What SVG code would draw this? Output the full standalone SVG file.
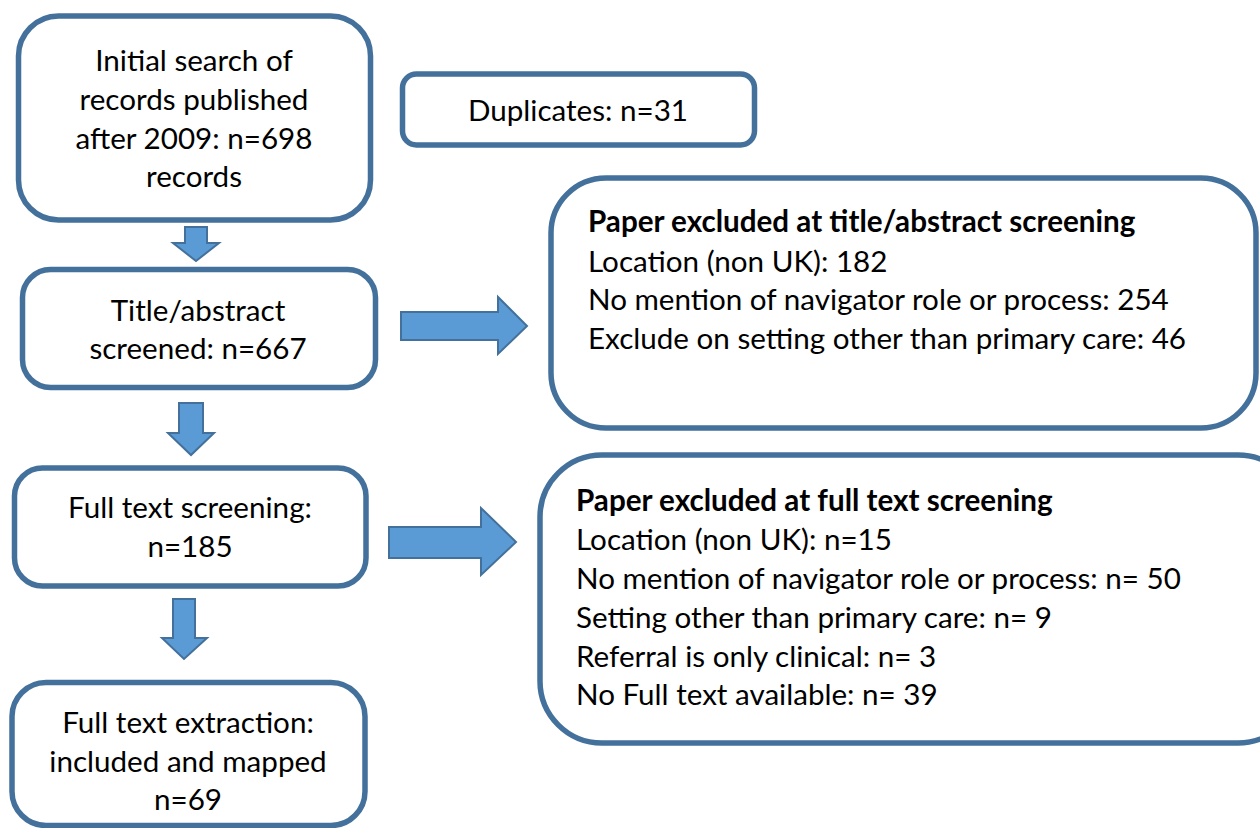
<svg xmlns="http://www.w3.org/2000/svg" width="1260" height="828" viewBox="0 0 1260 828">
<style>
.box{fill:#fff;stroke:#43719c;stroke-width:5.5}
.arr{fill:#5b9bd5;stroke:#43719c;stroke-width:2}
text{font-family:Lato,"Liberation Sans",sans-serif;font-size:29.6px;fill:#000}
.c{text-anchor:middle}
.b{font-weight:bold}
</style>
<rect width="1260" height="828" fill="#fff"/>
<g id="connectors">
<polygon class="arr" points="185,227 207,227 207,243 219,243 196,261 173,243 185,243"/>
<polygon class="arr" points="179,403 203,403 203,433 214,433 191,455 168,433 179,433"/>
<polygon class="arr" points="173,599 195,599 195,638 207,638 184,659 162,638 173,638"/>
<polygon class="arr" points="401,312 498,312 498,297 527,326 498,354 498,340 401,340"/>
<polygon class="arr" points="389,527 481,527 481,508 516,542 481,575 481,558 389,558"/>
</g>
<g id="n1">
<rect class="box" x="18.5" y="16" width="352" height="204" rx="40"/>
<text class="c" x="194" y="71">Initial search of</text>
<text class="c" x="194" y="110">records published</text>
<text class="c" x="194" y="149">after 2009: n=698</text>
<text class="c" x="194" y="187">records</text>
</g>
<g id="n2">
<rect class="box" x="22.5" y="269.5" width="353" height="118" rx="28"/>
<text class="c" x="198" y="321">Title/abstract</text>
<text class="c" x="198" y="359">screened: n=667</text>
</g>
<g id="n3">
<rect class="box" x="14.5" y="468" width="351.5" height="118" rx="28"/>
<text class="c" x="190" y="518">Full text screening:</text>
<text class="c" x="190" y="557">n=185</text>
</g>
<g id="n4">
<rect class="box" x="12" y="682.5" width="353" height="143" rx="34"/>
<text class="c" x="188" y="733">Full text extraction:</text>
<text class="c" x="188" y="772">included and mapped</text>
<text class="c" x="188" y="810">n=69</text>
</g>
<g id="dup">
<rect class="box" x="402.5" y="74" width="352" height="71" rx="14"/>
<text class="c" x="578" y="121">Duplicates: n=31</text>
</g>
<g id="ex1">
<rect class="box" x="551" y="178" width="705" height="250" rx="55"/>
<text class="b" x="588" y="232">Paper excluded at title/abstract screening</text>
<text x="588" y="272">Location (non UK): 182</text>
<text x="588" y="310">No mention of navigator role or process: 254</text>
<text x="588" y="349">Exclude on setting other than primary care: 46</text>
</g>
<g id="ex2">
<rect class="box" x="540" y="455" width="760" height="288" rx="62"/>
<text class="b" x="576" y="511">Paper excluded at full text screening</text>
<text x="576" y="550">Location (non UK): n=15</text>
<text x="576" y="589">No mention of navigator role or process: n= 50</text>
<text x="576" y="628">Setting other than primary care: n= 9</text>
<text x="576" y="667">Referral is only clinical: n= 3</text>
<text x="576" y="705">No Full text available: n= 39</text>
</g>
</svg>
